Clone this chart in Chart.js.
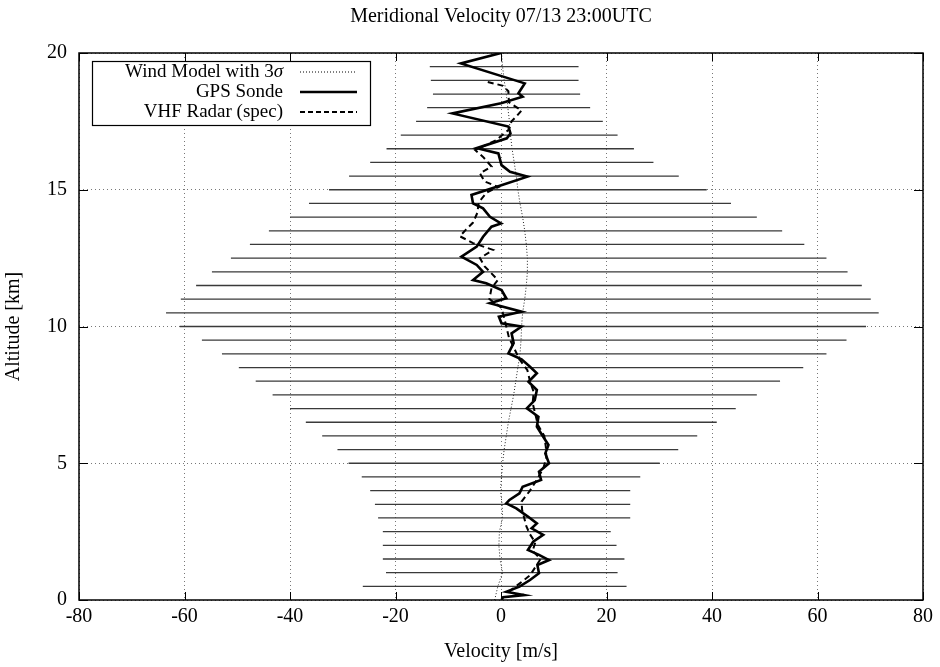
<!DOCTYPE html>
<html>
<head>
<meta charset="utf-8">
<script src="https://cdn.jsdelivr.net/npm/chart.js@4.4.1/dist/chart.umd.min.js"></script>
<style>
  html, body { margin: 0; padding: 0; background: #fff; }
  #chart-container { width: 940px; height: 667px; }
</style>
</head>
<body>
<div id="chart-container"><canvas id="velocityChart"></canvas></div>
<script>
// altitudes [km] of the 3-sigma bars and their ends [m/s]
var barAlt = [0.5, 1.0, 1.5, 2.0, 2.5, 3.0, 3.5, 4.0, 4.5, 5.0, 5.5, 6.0, 6.5, 7.0, 7.5, 8.0, 8.5, 9.0, 9.5, 10.0,
  10.5, 11.0, 11.5, 12.0, 12.5, 13.0, 13.5, 14.0, 14.5, 15.0, 15.5, 16.0, 16.5, 17.0, 17.5, 18.0, 18.5, 19.0, 19.5]
var barLow = [-26.2, -21.8, -22.4, -22.4, -22.4, -23.3, -23.9, -24.8, -26.4, -28.9, -31.0, -33.9, -37.0, -40.0, -43.3, -46.5, -49.7, -52.9, -56.7, -60.9,
  -63.5, -60.7, -57.8, -54.8, -51.2, -47.6, -44.0, -40.0, -36.4, -32.6, -28.8, -24.8, -21.7, -19.0, -16.1, -14.0, -12.9, -13.3, -13.5]
var barHigh = [23.8, 22.1, 23.4, 21.9, 20.8, 24.5, 24.5, 24.5, 26.4, 30.1, 33.6, 37.2, 40.9, 44.5, 48.5, 52.9, 57.3, 61.7, 65.5, 69.2,
  71.6, 70.1, 68.4, 65.7, 61.7, 57.5, 53.3, 48.5, 43.6, 39.0, 33.7, 28.9, 25.2, 22.1, 19.3, 16.9, 15.0, 14.7, 14.7]

// wind model (dotted)
var modelAlt = [0, 0.5, 1, 1.5, 2, 2.5, 3, 3.5, 4, 4.5, 5, 5.5, 6, 6.5, 7, 7.5, 8, 8.5, 9, 9.5, 10,
  10.5, 11, 11.5, 12, 12.5, 13, 13.5, 14, 14.5, 15, 15.5, 16, 16.5, 17, 17.5, 18, 18.5, 19, 19.5, 20]
var modelU = [-1.2, -0.6, 0.3, -0.2, -0.4, -0.3, 0.3, 0.2, -0.1, 0.1, 0.3, 0.6, 1.0, 1.4, 1.9, 2.4, 2.8, 3.2, 3.6, 3.8, 3.9,
  4.1, 4.5, 4.8, 5.0, 5.0, 4.8, 4.5, 4.1, 3.6, 3.2, 2.9, 2.5, 2.1, 1.8, 1.6, 1.3, 1.0, 0.6, 0.3, 0.1]

// GPS sonde (solid)
var sondeAlt = [0.0, 0.1, 0.18, 0.3, 0.49, 0.73, 0.98, 1.28, 1.46, 1.65, 1.83, 2.13, 2.38, 2.62, 2.8, 3.05, 3.35, 3.53, 3.66, 3.9,
  4.14, 4.39, 4.69, 5.0, 5.36, 5.67, 5.97, 6.34, 6.7, 7.01, 7.31, 7.68, 7.98, 8.29, 8.53, 8.8, 9.02, 9.39, 9.75, 10.0,
  10.12, 10.36, 10.54, 10.85, 11.03, 11.33, 11.58, 11.7, 12.0, 12.25, 12.55, 12.92, 13.28, 13.65, 13.77, 14.01, 14.32, 14.5, 14.81, 15.11,
  15.48, 15.66, 15.9, 16.33, 16.52, 16.88, 17.06, 17.31, 17.79, 18.16, 18.4, 18.53, 18.89, 19.62, 20.0]
var sondeU = [0.1, 0.4, 4.4, 1.0, 3.5, 5.5, 7.2, 6.9, 9.1, 7.2, 5.1, 6.1, 8.0, 5.8, 6.8, 5.1, 2.9, 1.0, 1.6, 3.5,
  4.1, 7.6, 7.2, 9.1, 8.4, 9.0, 8.0, 6.8, 7.1, 4.9, 6.4, 6.8, 5.2, 6.8, 5.5, 3.9, 1.4, 2.4, 2.0, 3.9,
  0.1, -0.4, 3.9, -2.1, 1.0, 0.1, -2.8, -5.3, -3.4, -4.6, -7.5, -4.6, -3.4, -1.8, 0.0, -2.1, -3.4, -5.3, -5.6, -0.8,
  5.0, 1.7, 0.1, -0.5, -4.6, 1.1, 1.8, 1.4, -9.2, 0.0, 4.1, 3.3, 4.5, -7.6, 0.0]

// VHF radar (dashed)
var radarAlt = [0.3, 0.6, 0.9, 1.2, 1.5, 1.8, 2.1, 2.4, 2.7, 3.0, 3.3, 3.6, 4.0, 4.4, 4.8, 5.2, 5.6, 6.0, 6.4, 6.8,
  7.2, 7.6, 8.0, 8.4, 8.8, 9.2, 9.6, 10.0, 10.4, 10.7, 11.0, 11.4, 11.7, 12.2, 12.5, 12.8, 13.05, 13.3, 13.55, 13.8,
  14.15, 14.55, 14.9, 15.1, 15.3, 15.6, 15.85, 16.2, 16.45, 16.8, 17.2, 17.5, 17.7, 17.9, 18.2, 18.6, 18.8, 18.95]
var radarU = [1.5, 3.5, 5.5, 6.5, 7.5, 6.0, 6.5, 5.5, 4.8, 4.4, 4.0, 3.9, 5.5, 6.8, 8.0, 8.6, 8.5, 8.2, 7.0, 6.5,
  6.0, 6.2, 5.5, 5.0, 3.5, 2.5, 1.5, 1.0, 0.5, 0.0, -2.2, -1.8, -0.6, -3.1, -4.0, -1.5, -5.3, -7.8, -6.6, -5.3,
  -4.5, -4.2, -2.7, -0.5, -3.1, -4.0, -1.8, -3.4, -4.9, -1.0, 1.5, 2.0, 3.0, 3.9, 1.5, 1.4, 0.4, -2.7]

var xTicks = [-80, -60, -40, -20, 0, 20, 40, 60, 80]
var yTicks = [0, 5, 10, 15, 20]

var serif = '"Liberation Serif", "DejaVu Serif", serif'

function toPoints(us, alts) {
  var pts = []
  for (var i = 0; i < us.length; i++) {
    pts.push({x: us[i], y: alts[i]})
  }
  return pts
}

// each bar is two points and a gap
var errorPoints = []
for (var i = 0; i < barAlt.length; i++) {
  errorPoints.push({x: barLow[i], y: barAlt[i]})
  errorPoints.push({x: barHigh[i], y: barAlt[i]})
  errorPoints.push({x: barHigh[i], y: null})
}

// frame, inward ticks and the boxed legend, gnuplot style
var framePlugin = {
  id: 'frameAndLegend',
  afterDraw: function(chart) {
    var ctx = chart.ctx
    var area = chart.chartArea
    var xs = chart.scales.x
    var ys = chart.scales.y
    ctx.save()
    ctx.strokeStyle = '#000'
    ctx.lineWidth = 1
    ctx.setLineDash([])
    ctx.beginPath()
    for (let v of xTicks) {
      var px = Math.round(xs.getPixelForValue(v)) + 0.5
      ctx.moveTo(px, area.bottom); ctx.lineTo(px, area.bottom - 8)
      ctx.moveTo(px, area.top); ctx.lineTo(px, area.top + 8)
    }
    for (let v of yTicks) {
      var py = Math.round(ys.getPixelForValue(v)) + 0.5
      ctx.moveTo(area.left, py); ctx.lineTo(area.left + 9, py)
      ctx.moveTo(area.right, py); ctx.lineTo(area.right - 9, py)
    }
    ctx.stroke()
    ctx.lineWidth = 1.5
    ctx.strokeRect(area.left, area.top, area.right - area.left, area.bottom - area.top)

    // legend box
    var bx = 92, by = 61, bw = 278, bh = 64
    ctx.fillStyle = '#fff'
    ctx.fillRect(bx, by, bw, bh)
    ctx.lineWidth = 1.2
    ctx.strokeRect(bx + 0.5, by + 0.5, bw, bh)

    var textRight = 283
    var rows = [72, 92, 112]
    ctx.fillStyle = '#000'
    ctx.textBaseline = 'middle'
    ctx.textAlign = 'right'
    ctx.font = 'italic 19px ' + serif
    var sigW = ctx.measureText('\u03c3').width
    ctx.fillText('\u03c3', textRight, rows[0])
    ctx.font = '19px ' + serif
    ctx.fillText('Wind Model with 3', textRight - sigW, rows[0])
    ctx.fillText('GPS Sonde', textRight, rows[1])
    ctx.fillText('VHF Radar (spec)', textRight, rows[2])

    var styles = [
      {w: 1, dash: [1, 2]},
      {w: 2.5, dash: []},
      {w: 2, dash: [5, 3]}
    ]
    for (var k = 0; k < 3; k++) {
      ctx.lineWidth = styles[k].w
      ctx.setLineDash(styles[k].dash)
      ctx.beginPath()
      ctx.moveTo(300, rows[k])
      ctx.lineTo(357, rows[k])
      ctx.stroke()
    }
    ctx.restore()
  }
}

var ctx = document.getElementById('velocityChart').getContext('2d')

var velocityChart = new Chart(ctx, {
  type: 'scatter',
  data: {
    datasets: [
      {
        label: 'Wind Model with 3\u03c3',
        data: toPoints(modelU, modelAlt),
        showLine: true,
        borderColor: '#222',
        borderWidth: 1,
        borderDash: [1, 2],
        pointRadius: 0,
        order: 4
      },
      {
        label: '3\u03c3',
        data: errorPoints,
        showLine: true,
        spanGaps: false,
        borderColor: '#3a3a3a',
        borderWidth: 1.3,
        pointRadius: 0,
        order: 3
      },
      {
        label: 'VHF Radar (spec)',
        data: toPoints(radarU, radarAlt),
        showLine: true,
        borderColor: '#000',
        borderWidth: 2,
        borderDash: [6, 4],
        pointRadius: 0,
        order: 2
      },
      {
        label: 'GPS Sonde',
        data: toPoints(sondeU, sondeAlt),
        showLine: true,
        borderColor: '#000',
        borderWidth: 2.6,
        pointRadius: 0,
        order: 1
      }
    ]
  },
  options: {
    responsive: true,
    maintainAspectRatio: false,
    animation: false,
    layout: {
      padding: {left: 0, right: 17, top: 0, bottom: 0}
    },
    plugins: {
      legend: {display: false},
      tooltip: {enabled: false},
      title: {
        display: true,
        fullSize: false,
        text: 'Meridional Velocity 07/13 23:00UTC',
        color: '#000',
        font: {family: serif, size: 20, weight: 'normal'},
        padding: {top: 5, bottom: 24}
      }
    },
    scales: {
      x: {
        type: 'linear',
        min: -80,
        max: 80,
        afterFit: function(scale) { scale.height = 67 },
        afterBuildTicks: function(scale) {
          scale.ticks = xTicks.map(function(v) { return {value: v} })
        },
        ticks: {
          color: '#000',
          padding: 5,
          maxRotation: 0,
          font: {family: serif, size: 20}
        },
        grid: {
          color: '#777',
          lineWidth: 1,
          drawTicks: false
        },
        border: {display: false, dash: [1, 3]},
        title: {
          display: true,
          text: 'Velocity [m/s]',
          color: '#000',
          font: {family: serif, size: 20},
          padding: {top: 0, bottom: 3}
        }
      },
      y: {
        type: 'linear',
        min: 0,
        max: 20,
        afterFit: function(scale) { scale.width = 79 },
        afterBuildTicks: function(scale) {
          scale.ticks = yTicks.map(function(v) { return {value: v} })
        },
        ticks: {
          color: '#000',
          padding: 12,
          font: {family: serif, size: 20}
        },
        grid: {
          color: '#777',
          lineWidth: 1,
          drawTicks: false
        },
        border: {display: false, dash: [1, 3]},
        title: {
          display: true,
          text: 'Altitude [km]',
          color: '#000',
          font: {family: serif, size: 20},
          padding: 2
        }
      }
    }
  },
  plugins: [framePlugin]
})
</script>
</body>
</html>
